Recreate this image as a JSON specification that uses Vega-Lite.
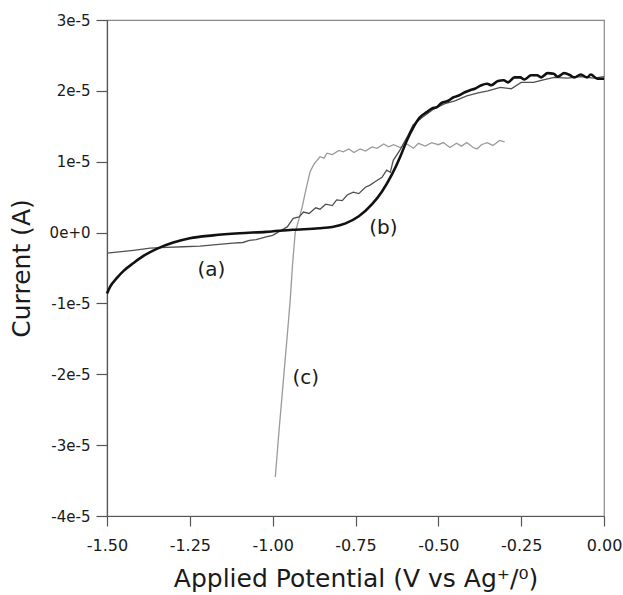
{
  "$schema": "https://vega.github.io/schema/vega-lite/v6.json",
  "width": 497,
  "height": 496,
  "autosize": {"type": "none"},
  "padding": {"left": 107, "top": 20, "right": 19, "bottom": 79},
  "background": "white",
  "config": {
    "view": {"stroke": "#888", "strokeWidth": 1.2},
    "axis": {"labelFont": "DejaVu Sans", "titleFont": "DejaVu Sans", "labelColor": "#1a1a1a", "titleColor": "#1a1a1a", "grid": false, "domainColor": "#555", "tickColor": "#555", "titleFontWeight": "normal", "domainWidth": 1.2, "tickWidth": 1.2}
  },
  "datasets": {
    "curves": [
      {"s": "c", "x": -0.992, "y": -3.45e-5}, {"s": "c", "x": -0.98, "y": -2.75e-5}, {"s": "c", "x": -0.967, "y": -2.05e-5}, {"s": "c", "x": -0.955, "y": -1.4e-5}, {"s": "c", "x": -0.947, "y": -0.95e-5}, {"s": "c", "x": -0.94, "y": -0.45e-5}, {"s": "c", "x": -0.932, "y": 0.0}, {"s": "c", "x": -0.92, "y": 0.2e-5}, {"s": "c", "x": -0.911, "y": 0.36e-5}, {"s": "c", "x": -0.9, "y": 0.6e-5}, {"s": "c", "x": -0.887, "y": 0.86e-5}, {"s": "c", "x": -0.875, "y": 0.97e-5}, {"s": "c", "x": -0.857, "y": 1.07e-5}, {"s": "c", "x": -0.845, "y": 1.05e-5}, {"s": "c", "x": -0.836, "y": 1.12e-5}, {"s": "c", "x": -0.82, "y": 1.1e-5}, {"s": "c", "x": -0.8, "y": 1.16e-5}, {"s": "c", "x": -0.787, "y": 1.14e-5}, {"s": "c", "x": -0.77, "y": 1.18e-5}, {"s": "c", "x": -0.755, "y": 1.13e-5}, {"s": "c", "x": -0.736, "y": 1.18e-5}, {"s": "c", "x": -0.72, "y": 1.15e-5}, {"s": "c", "x": -0.7, "y": 1.21e-5}, {"s": "c", "x": -0.685, "y": 1.19e-5}, {"s": "c", "x": -0.665, "y": 1.25e-5}, {"s": "c", "x": -0.65, "y": 1.21e-5}, {"s": "c", "x": -0.635, "y": 1.24e-5}, {"s": "c", "x": -0.615, "y": 1.2e-5}, {"s": "c", "x": -0.595, "y": 1.25e-5}, {"s": "c", "x": -0.575, "y": 1.19e-5}, {"s": "c", "x": -0.56, "y": 1.26e-5}, {"s": "c", "x": -0.54, "y": 1.22e-5}, {"s": "c", "x": -0.52, "y": 1.27e-5}, {"s": "c", "x": -0.5, "y": 1.24e-5}, {"s": "c", "x": -0.485, "y": 1.27e-5}, {"s": "c", "x": -0.465, "y": 1.2e-5}, {"s": "c", "x": -0.445, "y": 1.26e-5}, {"s": "c", "x": -0.43, "y": 1.22e-5}, {"s": "c", "x": -0.414, "y": 1.27e-5}, {"s": "c", "x": -0.395, "y": 1.2e-5}, {"s": "c", "x": -0.383, "y": 1.18e-5}, {"s": "c", "x": -0.37, "y": 1.24e-5}, {"s": "c", "x": -0.353, "y": 1.27e-5}, {"s": "c", "x": -0.335, "y": 1.23e-5}, {"s": "c", "x": -0.315, "y": 1.3e-5}, {"s": "c", "x": -0.3, "y": 1.28e-5},

      {"s": "a", "x": -1.5, "y": -0.29e-5}, {"s": "a", "x": -1.42, "y": -0.25e-5}, {"s": "a", "x": -1.37, "y": -0.22e-5}, {"s": "a", "x": -1.32, "y": -0.21e-5}, {"s": "a", "x": -1.27, "y": -0.2e-5}, {"s": "a", "x": -1.22, "y": -0.19e-5}, {"s": "a", "x": -1.17, "y": -0.17e-5}, {"s": "a", "x": -1.12, "y": -0.15e-5}, {"s": "a", "x": -1.09, "y": -0.14e-5}, {"s": "a", "x": -1.07, "y": -0.11e-5}, {"s": "a", "x": -1.05, "y": -0.1e-5}, {"s": "a", "x": -1.02, "y": -0.06e-5}, {"s": "a", "x": -1.0, "y": -0.04e-5}, {"s": "a", "x": -0.986, "y": 0.0}, {"s": "a", "x": -0.956, "y": 0.08e-5}, {"s": "a", "x": -0.938, "y": 0.2e-5}, {"s": "a", "x": -0.92, "y": 0.22e-5}, {"s": "a", "x": -0.907, "y": 0.29e-5}, {"s": "a", "x": -0.89, "y": 0.27e-5}, {"s": "a", "x": -0.87, "y": 0.35e-5}, {"s": "a", "x": -0.857, "y": 0.33e-5}, {"s": "a", "x": -0.84, "y": 0.4e-5}, {"s": "a", "x": -0.82, "y": 0.38e-5}, {"s": "a", "x": -0.807, "y": 0.46e-5}, {"s": "a", "x": -0.79, "y": 0.45e-5}, {"s": "a", "x": -0.775, "y": 0.53e-5}, {"s": "a", "x": -0.757, "y": 0.57e-5}, {"s": "a", "x": -0.74, "y": 0.55e-5}, {"s": "a", "x": -0.72, "y": 0.64e-5}, {"s": "a", "x": -0.706, "y": 0.67e-5}, {"s": "a", "x": -0.69, "y": 0.72e-5}, {"s": "a", "x": -0.67, "y": 0.78e-5}, {"s": "a", "x": -0.656, "y": 0.88e-5}, {"s": "a", "x": -0.645, "y": 0.85e-5}, {"s": "a", "x": -0.636, "y": 1.02e-5}, {"s": "a", "x": -0.615, "y": 1.17e-5}, {"s": "a", "x": -0.594, "y": 1.35e-5}, {"s": "a", "x": -0.576, "y": 1.52e-5}, {"s": "a", "x": -0.55, "y": 1.62e-5}, {"s": "a", "x": -0.515, "y": 1.74e-5}, {"s": "a", "x": -0.48, "y": 1.82e-5}, {"s": "a", "x": -0.45, "y": 1.86e-5}, {"s": "a", "x": -0.414, "y": 1.93e-5}, {"s": "a", "x": -0.38, "y": 1.97e-5}, {"s": "a", "x": -0.35, "y": 2.0e-5}, {"s": "a", "x": -0.313, "y": 2.05e-5}, {"s": "a", "x": -0.28, "y": 2.03e-5}, {"s": "a", "x": -0.25, "y": 2.12e-5}, {"s": "a", "x": -0.213, "y": 2.12e-5}, {"s": "a", "x": -0.18, "y": 2.16e-5}, {"s": "a", "x": -0.15, "y": 2.19e-5}, {"s": "a", "x": -0.11, "y": 2.18e-5}, {"s": "a", "x": -0.07, "y": 2.2e-5}, {"s": "a", "x": -0.03, "y": 2.18e-5}, {"s": "a", "x": 0.0, "y": 2.2e-5},

      {"s": "b", "x": -1.5, "y": -0.86e-5}, {"s": "b", "x": -1.49, "y": -0.76e-5}, {"s": "b", "x": -1.47, "y": -0.64e-5}, {"s": "b", "x": -1.45, "y": -0.54e-5}, {"s": "b", "x": -1.42, "y": -0.43e-5}, {"s": "b", "x": -1.39, "y": -0.33e-5}, {"s": "b", "x": -1.35, "y": -0.23e-5}, {"s": "b", "x": -1.3, "y": -0.14e-5}, {"s": "b", "x": -1.25, "y": -0.08e-5}, {"s": "b", "x": -1.18, "y": -0.04e-5}, {"s": "b", "x": -1.1, "y": -0.01e-5}, {"s": "b", "x": -1.02, "y": 0.01e-5}, {"s": "b", "x": -0.94, "y": 0.04e-5}, {"s": "b", "x": -0.86, "y": 0.06e-5}, {"s": "b", "x": -0.82, "y": 0.08e-5}, {"s": "b", "x": -0.78, "y": 0.13e-5}, {"s": "b", "x": -0.74, "y": 0.23e-5}, {"s": "b", "x": -0.7, "y": 0.4e-5}, {"s": "b", "x": -0.67, "y": 0.58e-5}, {"s": "b", "x": -0.64, "y": 0.82e-5}, {"s": "b", "x": -0.615, "y": 1.07e-5}, {"s": "b", "x": -0.595, "y": 1.3e-5}, {"s": "b", "x": -0.575, "y": 1.49e-5}, {"s": "b", "x": -0.555, "y": 1.63e-5}, {"s": "b", "x": -0.535, "y": 1.7e-5}, {"s": "b", "x": -0.52, "y": 1.75e-5}, {"s": "b", "x": -0.504, "y": 1.77e-5}, {"s": "b", "x": -0.49, "y": 1.83e-5}, {"s": "b", "x": -0.47, "y": 1.86e-5}, {"s": "b", "x": -0.454, "y": 1.91e-5}, {"s": "b", "x": -0.44, "y": 1.93e-5}, {"s": "b", "x": -0.42, "y": 1.98e-5}, {"s": "b", "x": -0.404, "y": 2.01e-5}, {"s": "b", "x": -0.39, "y": 2.03e-5}, {"s": "b", "x": -0.37, "y": 2.08e-5}, {"s": "b", "x": -0.353, "y": 2.1e-5}, {"s": "b", "x": -0.34, "y": 2.08e-5}, {"s": "b", "x": -0.32, "y": 2.14e-5}, {"s": "b", "x": -0.303, "y": 2.15e-5}, {"s": "b", "x": -0.29, "y": 2.12e-5}, {"s": "b", "x": -0.27, "y": 2.19e-5}, {"s": "b", "x": -0.253, "y": 2.19e-5}, {"s": "b", "x": -0.24, "y": 2.16e-5}, {"s": "b", "x": -0.22, "y": 2.22e-5}, {"s": "b", "x": -0.202, "y": 2.22e-5}, {"s": "b", "x": -0.19, "y": 2.19e-5}, {"s": "b", "x": -0.17, "y": 2.25e-5}, {"s": "b", "x": -0.152, "y": 2.24e-5}, {"s": "b", "x": -0.14, "y": 2.2e-5}, {"s": "b", "x": -0.12, "y": 2.25e-5}, {"s": "b", "x": -0.102, "y": 2.22e-5}, {"s": "b", "x": -0.09, "y": 2.19e-5}, {"s": "b", "x": -0.07, "y": 2.23e-5}, {"s": "b", "x": -0.051, "y": 2.19e-5}, {"s": "b", "x": -0.04, "y": 2.23e-5}, {"s": "b", "x": -0.02, "y": 2.17e-5}, {"s": "b", "x": 0.0, "y": 2.17e-5}
    ],
    "labels": [
      {"t": "(a)", "x": -1.185, "y": -0.53e-5},
      {"t": "(b)", "x": -0.666, "y": 0.07e-5},
      {"t": "(c)", "x": -0.9, "y": -2.05e-5}
    ]
  },
  "layer": [
    {
      "data": {"name": "curves"},
      "transform": [{"filter": "datum.s === 'c'"}],
      "mark": {"type": "line", "color": "#9a9a9a", "strokeWidth": 1.3},
      "encoding": {
        "x": {"field": "x", "type": "quantitative", "scale": {"domain": [-1.5, 0], "nice": false}, "axis": {"values": [-1.5, -1.25, -1.0, -0.75, -0.5, -0.25, 0], "labelExpr": "replace(format(datum.value, '.2f'), '\u2212', '-')", "title": "Applied Potential (V vs Ag⁺/⁰)", "labelFontSize": 16, "titleFontSize": 25, "tickSize": 10, "labelPadding": 11, "titlePadding": 13, "labelFlush": false}},
        "y": {"field": "y", "type": "quantitative", "scale": {"domain": [-4e-5, 3e-5], "nice": false}, "axis": {"values": [-4e-5, -3e-5, -2e-5, -1e-5, 0, 1e-5, 2e-5, 3e-5], "labelExpr": "replace(format(datum.value, '.0e'), '\u2212', '-')", "title": "Current (A)", "labelFontSize": 15, "titleFontSize": 25, "tickSize": 11, "labelPadding": 6, "titlePadding": 15, "labelFlush": false}}
      }
    },
    {
      "data": {"name": "curves"},
      "transform": [{"filter": "datum.s === 'a'"}],
      "mark": {"type": "line", "color": "#505050", "strokeWidth": 1.3},
      "encoding": {
        "x": {"field": "x", "type": "quantitative"},
        "y": {"field": "y", "type": "quantitative"}
      }
    },
    {
      "data": {"name": "curves"},
      "transform": [{"filter": "datum.s === 'b'"}],
      "mark": {"type": "line", "color": "#111111", "strokeWidth": 2.6, "interpolate": "monotone"},
      "encoding": {
        "x": {"field": "x", "type": "quantitative"},
        "y": {"field": "y", "type": "quantitative"}
      }
    },
    {
      "data": {"name": "labels"},
      "mark": {"type": "text", "font": "DejaVu Sans", "fontSize": 20, "color": "#1a1a1a", "align": "center", "baseline": "middle"},
      "encoding": {
        "x": {"field": "x", "type": "quantitative"},
        "y": {"field": "y", "type": "quantitative"},
        "text": {"field": "t"}
      }
    }
  ]
}
